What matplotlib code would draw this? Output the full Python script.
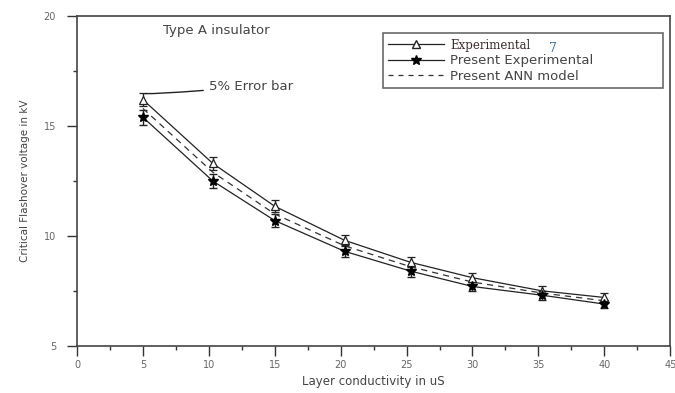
import matplotlib
matplotlib.use("Agg")
from matplotlib import pyplot as plt
from matplotlib.lines import Line2D

# layer conductivity (uS)
x_cond = [5.0, 10.3, 15.0, 20.3, 25.3, 30.0, 35.3, 40.0]
# Experimental [7]
v_ref = [16.2, 13.3, 11.35, 9.8, 8.8, 8.1, 7.5, 7.2]
err_ref = [0.3, 0.3, 0.28, 0.25, 0.22, 0.2, 0.2, 0.2]
# Present experimental
v_exp = [15.4, 12.5, 10.7, 9.3, 8.4, 7.7, 7.3, 6.9]
err_exp = [0.35, 0.32, 0.3, 0.27, 0.25, 0.22, 0.2, 0.18]
# Present ANN model
v_ann = [15.8, 12.9, 11.0, 9.55, 8.6, 7.9, 7.4, 7.05]

txt = "#444444"
plt.rcParams["font.family"] = ["DejaVu Sans"]

fig = plt.figure(figsize=(6.75, 3.93), dpi=100)
ax = fig.add_axes([0.114, 0.12, 0.879, 0.839])

ax.errorbar(x_cond, v_ref, yerr=err_ref, color="#222222", lw=0.9,
            marker="^", ms=6, mfc="white", mec="#222222", mew=0.9,
            capsize=3, elinewidth=1.0, capthick=1.0)
ax.errorbar(x_cond, v_exp, yerr=err_exp, color="#222222", lw=0.9,
            marker="*", ms=7, mfc="black", mec="black",
            capsize=3, elinewidth=1.0, capthick=1.0)
ax.plot(x_cond, v_ann, color="#333333", lw=0.9, ls=(0, (5, 4)))

ax.set_xlim(0, 45)
ax.set_ylim(5, 20)
ax.set_xticks(range(0, 46, 5))
ax.set_xticks([i + 2.5 for i in range(0, 45, 5)], minor=True)
ax.set_yticks([5, 10, 15, 20])
ax.set_yticks([7.5, 12.5, 17.5], minor=True)
ax.tick_params(which="both", direction="out", colors="#333333",
               labelcolor="#666666", labelsize=7, width=1)
ax.tick_params(which="major", length=7)
ax.tick_params(which="minor", length=3)
ax.tick_params(axis="y", pad=8)
for s in ax.spines.values():
    s.set_color("#444444")
    s.set_linewidth(1.2)

ax.set_xlabel("Layer conductivity in uS", fontsize=8.5, color=txt, labelpad=3)
ax.set_ylabel("Critical Flashover voltage in kV", fontsize=7.5, color=txt,
              labelpad=10)

ax.text(6.5, 19.2, "Type A insulator", fontsize=9.5, color=txt)
ax.annotate("5% Error bar", xy=(5.0, 16.55), xytext=(10.0, 16.8),
            fontsize=9.5, color=txt, va="center",
            arrowprops=dict(arrowstyle="-", color="#222222", lw=1,
                            connectionstyle="angle3,angleA=5,angleB=20"))

handles = [
    Line2D([], [], color="#222222", lw=0.9, marker="^", ms=6, mfc="white",
           mec="#222222"),
    Line2D([], [], color="#222222", lw=0.9, marker="*", ms=7, mfc="black",
           mec="black"),
    Line2D([], [], color="#333333", lw=0.9, ls=(0, (4, 4))),
]
leg = ax.legend(handles, ["Experimental", "Present Experimental",
                          "Present ANN model"],
                loc="upper left", bbox_to_anchor=(0.516, 0.781, 0.472, 0.167),
                mode="expand", borderaxespad=0, fontsize=9.5, frameon=True,
                fancybox=False, handlelength=4.2, handletextpad=0.5,
                labelspacing=0.2, borderpad=0.4, edgecolor="#444444")
leg.get_frame().set_linewidth(1.2)
for t in leg.get_texts():
    t.set_color(txt)
first = leg.get_texts()[0]
first.set_family("DejaVu Serif")
first.set_fontsize(8.5)
first.set_color("#3a2a2a")

ax.text(0.795, 0.903, "7", transform=ax.transAxes, fontsize=9,
        color="#2e5fa8", family="DejaVu Serif", va="center", zorder=10)

fig.savefig("out.png", dpi=100)
